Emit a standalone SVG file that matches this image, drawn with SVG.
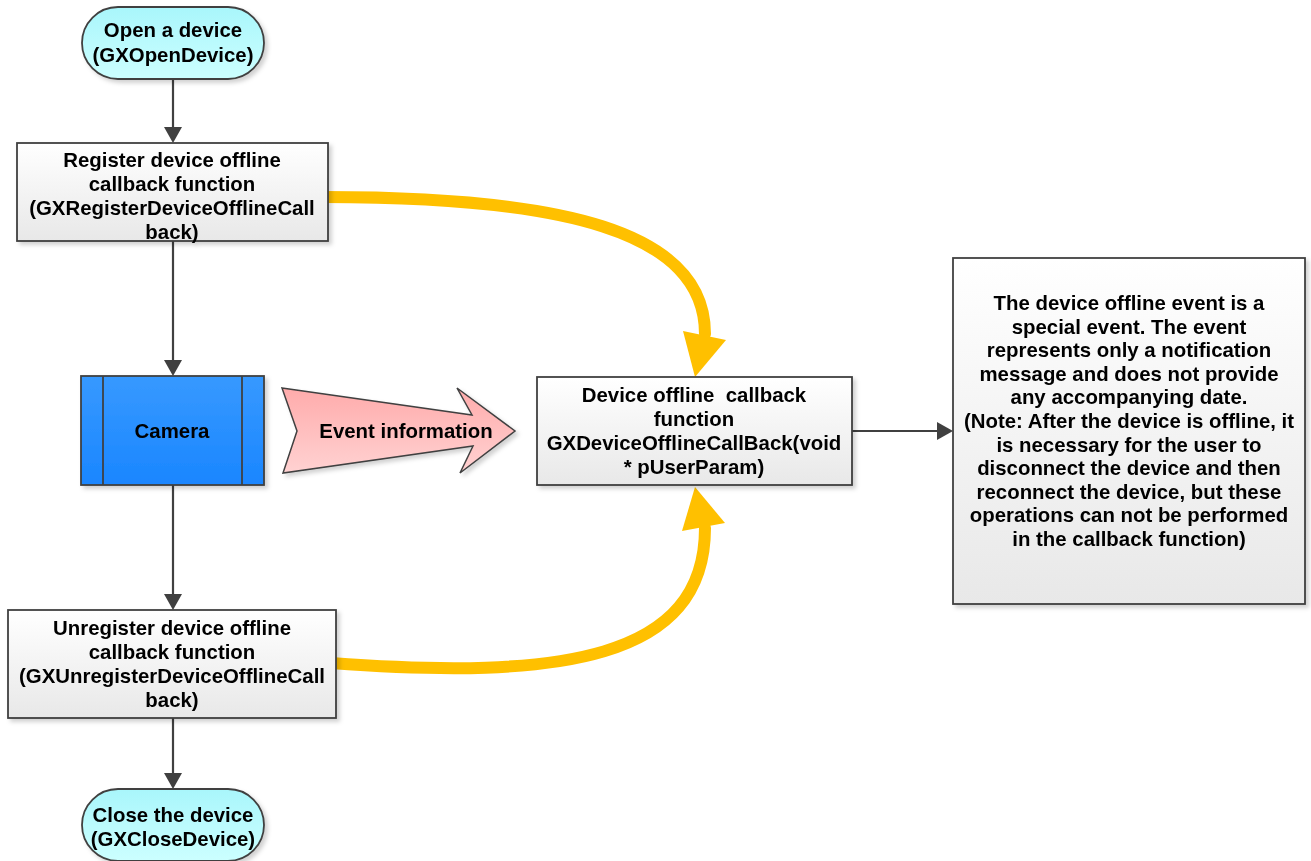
<svg xmlns="http://www.w3.org/2000/svg" width="1311" height="861" viewBox="0 0 1311 861">
<style>
  text { font-family: "Liberation Sans", Arial, sans-serif; font-weight: bold; font-size: 20.4px; fill: #000; text-anchor: middle; }
  .box { stroke: #404040; stroke-width: 1.8; }
  .proc { fill: url(#gGray); }
  .term { fill: url(#gCyan); }
  .flow { stroke: #404040; stroke-width: 2.2; fill: none; }
  .yel { stroke: #ffc000; stroke-width: 12; fill: none; stroke-linecap: round; }
  .yhead { fill: #ffc000; }
</style>
<defs>
  <linearGradient id="gGray" x1="0" y1="0" x2="0" y2="1">
    <stop offset="0" stop-color="#ffffff"/>
    <stop offset="1" stop-color="#e8e8e8"/>
  </linearGradient>
  <linearGradient id="gCyan" x1="0" y1="0" x2="0" y2="1">
    <stop offset="0" stop-color="#a9f6fb"/>
    <stop offset="1" stop-color="#ccffff"/>
  </linearGradient>
  <linearGradient id="gBlue" x1="0" y1="0" x2="0" y2="1">
    <stop offset="0" stop-color="#3799ff"/>
    <stop offset="1" stop-color="#1a86ff"/>
  </linearGradient>
  <linearGradient id="gPink" x1="0" y1="0" x2="0" y2="1">
    <stop offset="0" stop-color="#ffabab"/>
    <stop offset="1" stop-color="#ffd2d2"/>
  </linearGradient>
  <filter id="sh" x="-10%" y="-10%" width="130%" height="130%">
    <feDropShadow dx="3" dy="3" stdDeviation="2" flood-color="#000" flood-opacity="0.18"/>
  </filter>
</defs>
<rect width="1311" height="861" fill="#ffffff"/>

<g id="connectors">
  <line class="flow" x1="173" y1="79" x2="173" y2="129"/>
  <polygon points="164,127 182,127 173,143" fill="#404040"/>
  <line class="flow" x1="173" y1="241" x2="173" y2="362"/>
  <polygon points="164,360 182,360 173,376" fill="#404040"/>
  <line class="flow" x1="173" y1="485" x2="173" y2="596"/>
  <polygon points="164,594 182,594 173,610" fill="#404040"/>
  <line class="flow" x1="173" y1="718" x2="173" y2="775"/>
  <polygon points="164,773 182,773 173,789" fill="#404040"/>
  <line class="flow" x1="852" y1="431" x2="940" y2="431"/>
  <polygon points="937,422 953,431 937,440" fill="#404040"/>
  <path class="yel" d="M324,197 C560,197 705,230 705,334"/>
  <polygon class="yhead" points="683,331 695,377 726,340"/>
  <path class="yel" d="M331,663 C560,680 705,660 705,528"/>
  <polygon class="yhead" points="682,531 695,487 725,523"/>
</g>

<g id="open-device" filter="url(#sh)">
  <rect class="box term" x="82" y="7" width="182" height="72" rx="36" ry="36"/>
  <text x="173" y="37">Open a device</text>
  <text x="173" y="62">(GXOpenDevice)</text>
</g>

<g id="register" filter="url(#sh)">
  <rect class="box proc" x="17" y="143" width="311" height="98"/>
  <text x="172" y="167">Register device offline</text>
  <text x="172" y="191">callback function</text>
  <text x="172" y="215">(GXRegisterDeviceOfflineCall</text>
  <text x="172" y="239">back)</text>
</g>

<g id="camera" filter="url(#sh)">
  <rect class="box" x="81" y="376" width="183" height="109" fill="url(#gBlue)"/>
  <line class="box" x1="103" y1="376" x2="103" y2="485"/>
  <line class="box" x1="242" y1="376" x2="242" y2="485"/>
  <text x="172" y="438">Camera</text>
</g>

<g id="event-information" filter="url(#sh)">
  <polygon points="282,388 472,415 457,388 515,431 460,473 473,446 283,473 297,431" fill="url(#gPink)" stroke="#404040" stroke-width="1.5"/>
  <text x="406" y="438">Event information</text>
</g>

<g id="callback" filter="url(#sh)">
  <rect class="box proc" x="537" y="377" width="315" height="108"/>
  <text x="694" y="402" style="white-space:pre">Device offline  callback</text>
  <text x="694" y="426">function</text>
  <text x="694" y="450">GXDeviceOfflineCallBack(void</text>
  <text x="694" y="474">* pUserParam)</text>
</g>

<g id="note" filter="url(#sh)">
  <rect class="box proc" x="953" y="258" width="352" height="346"/>
  <text x="1129" y="310">The device offline event is a</text>
  <text x="1129" y="333.6">special event. The event</text>
  <text x="1129" y="357.2">represents only a notification</text>
  <text x="1129" y="380.8">message and does not provide</text>
  <text x="1129" y="404.4">any accompanying date.</text>
  <text x="1129" y="428">(Note: After the device is offline, it</text>
  <text x="1129" y="451.6">is necessary for the user to</text>
  <text x="1129" y="475.2">disconnect the device and then</text>
  <text x="1129" y="498.8">reconnect the device, but these</text>
  <text x="1129" y="522.4">operations can not be performed</text>
  <text x="1129" y="546">in the callback function)</text>
</g>

<g id="unregister" filter="url(#sh)">
  <rect class="box proc" x="8" y="610" width="328" height="108"/>
  <text x="172" y="635">Unregister device offline</text>
  <text x="172" y="659">callback function</text>
  <text x="172" y="683">(GXUnregisterDeviceOfflineCall</text>
  <text x="172" y="707">back)</text>
</g>

<g id="close-device" filter="url(#sh)">
  <rect class="box term" x="82" y="789" width="182" height="72" rx="36" ry="36"/>
  <text x="173" y="822">Close the device</text>
  <text x="173" y="846">(GXCloseDevice)</text>
</g>
</svg>
